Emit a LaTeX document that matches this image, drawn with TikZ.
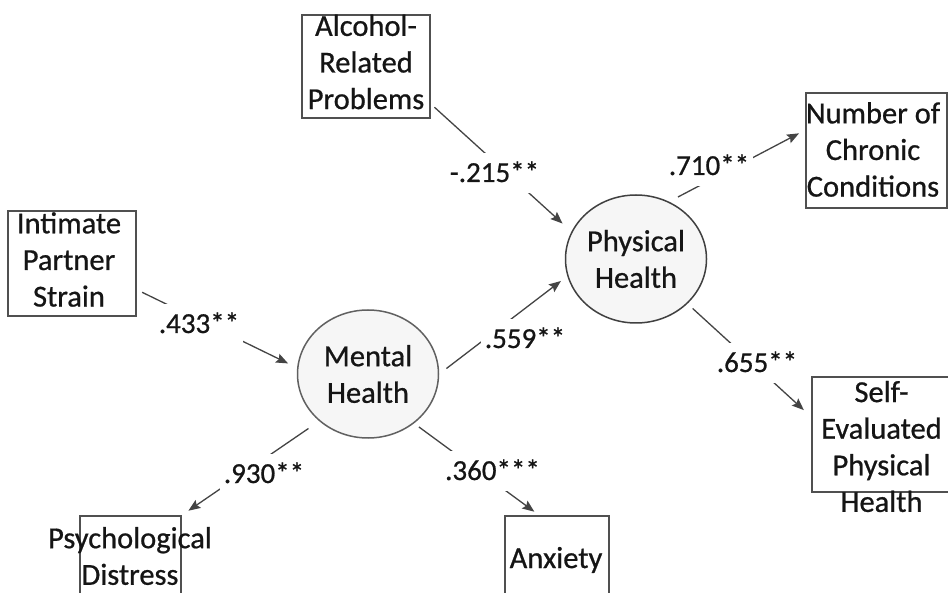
\documentclass[tikz,border=0pt]{standalone}
\usepackage{fontspec}
\setmainfont{Carlito}[FakeBold=0.7]
\usetikzlibrary{arrows.meta,shapes.geometric}
\definecolor{linec}{HTML}{444444}
\definecolor{boxc}{HTML}{505050}
\definecolor{latc}{HTML}{606060}
\definecolor{latfill}{HTML}{F6F6F6}
\definecolor{txtc}{HTML}{151515}
\newcommand\mybfont{\fontsize{30.5}{36.6}\selectfont}
\newcommand\mylfont{\fontsize{29}{34}\selectfont}
\begin{document}
\begin{tikzpicture}[x=1pt,y=-1pt,
  box/.style={draw=boxc, line width=1.5pt, inner sep=0pt},
  lat/.style={ellipse, draw=latc, fill=latfill, line width=1.5pt,
    minimum width=141pt, minimum height=128pt, inner sep=0pt,
    align=center, font=\mybfont, text=txtc},
  txt/.style={align=center, font=\mybfont, inner sep=0pt, text=txtc},
  lab/.style={fill=white, inner xsep=4pt, inner ysep=7pt,
    text height=22pt, text depth=4pt, font=\mylfont, text=txtc},
  conn/.style={draw=linec, line width=1.3pt,
    -{Stealth[length=12pt,width=9.5pt,inset=2pt]}}]
\clip (0,0) rectangle (948,593);
\fill[white] (0,0) rectangle (948,593);

% boxes
\node[box, minimum width=128pt, minimum height=103pt] (alc) at (366,66.5) {};
\node[txt] (alcT) at (366,62) {Alcohol-\\Related\\Problems};

\node[box, minimum width=128pt, minimum height=105pt] (int) at (72,263.5) {};
\node[txt] (intT) at (69,259.5) {Intimate\\Partner\\Strain};

\node[box, minimum width=141pt, minimum height=115pt] (num) at (876.5,150.5) {};
\node[txt] (numT) at (873,149.5) {Number of\\Chronic\\Conditions};

\node[box, minimum width=140pt, minimum height=114.5pt] (sep) at (882,434.5) {};
\node[txt] (sepT) at (881.5,446.5) {Self-\\Evaluated\\Physical\\Health};

\node[box, minimum width=104pt, minimum height=115pt] (anx) at (557,573.5) {};
\node[txt] (anxT) at (556,560) {Anxiety};

\node[box, minimum width=101pt, minimum height=115pt] (psd) at (130.5,573.5) {};
\node[txt] (psdT) at (130,556) {Psychological\\Distress};

% latent variables
\node[lat] (mh) at (368,374) {Mental\\Health};
\node[lat, draw=boxc!80!black] (ph) at (636,259) {Physical\\Health};

% connectors
\draw[conn, shorten <=5pt, shorten >=12pt] (alc.-30) -- (ph.157)
  node[lab] (l1) at (494.5,173) {-.215**};
\draw[conn, shorten <=6pt, shorten >=10pt] (int.-22) -- (mh.175)
  node[lab] (l2) at (199,324) {.433**};
\draw[conn, shorten <=9pt, shorten >=8pt] (mh.0) -- (ph.194)
  node[lab] (l3) at (525,339) {.559**};
\draw[conn, shorten <=10pt, shorten >=7pt] (ph.60) -- (num.164)
  node[lab] (l4) at (709,166) {.710**};
\draw[conn, shorten <=7pt, shorten >=10pt] (ph.-41) -- (sep.166)
  node[lab] (l5) at (757,363) {.655**};
\draw[conn, shorten <=13pt, shorten >=8pt] (mh.224) -- (psd.north east)
  node[lab] (l6) at (264,474) {.930**};
\draw[conn, shorten <=6pt, shorten >=6pt] (mh.-47) -- (anx.107)
  node[lab] (l7) at (492.5,471) {.360***};
\end{tikzpicture}
\end{document}
